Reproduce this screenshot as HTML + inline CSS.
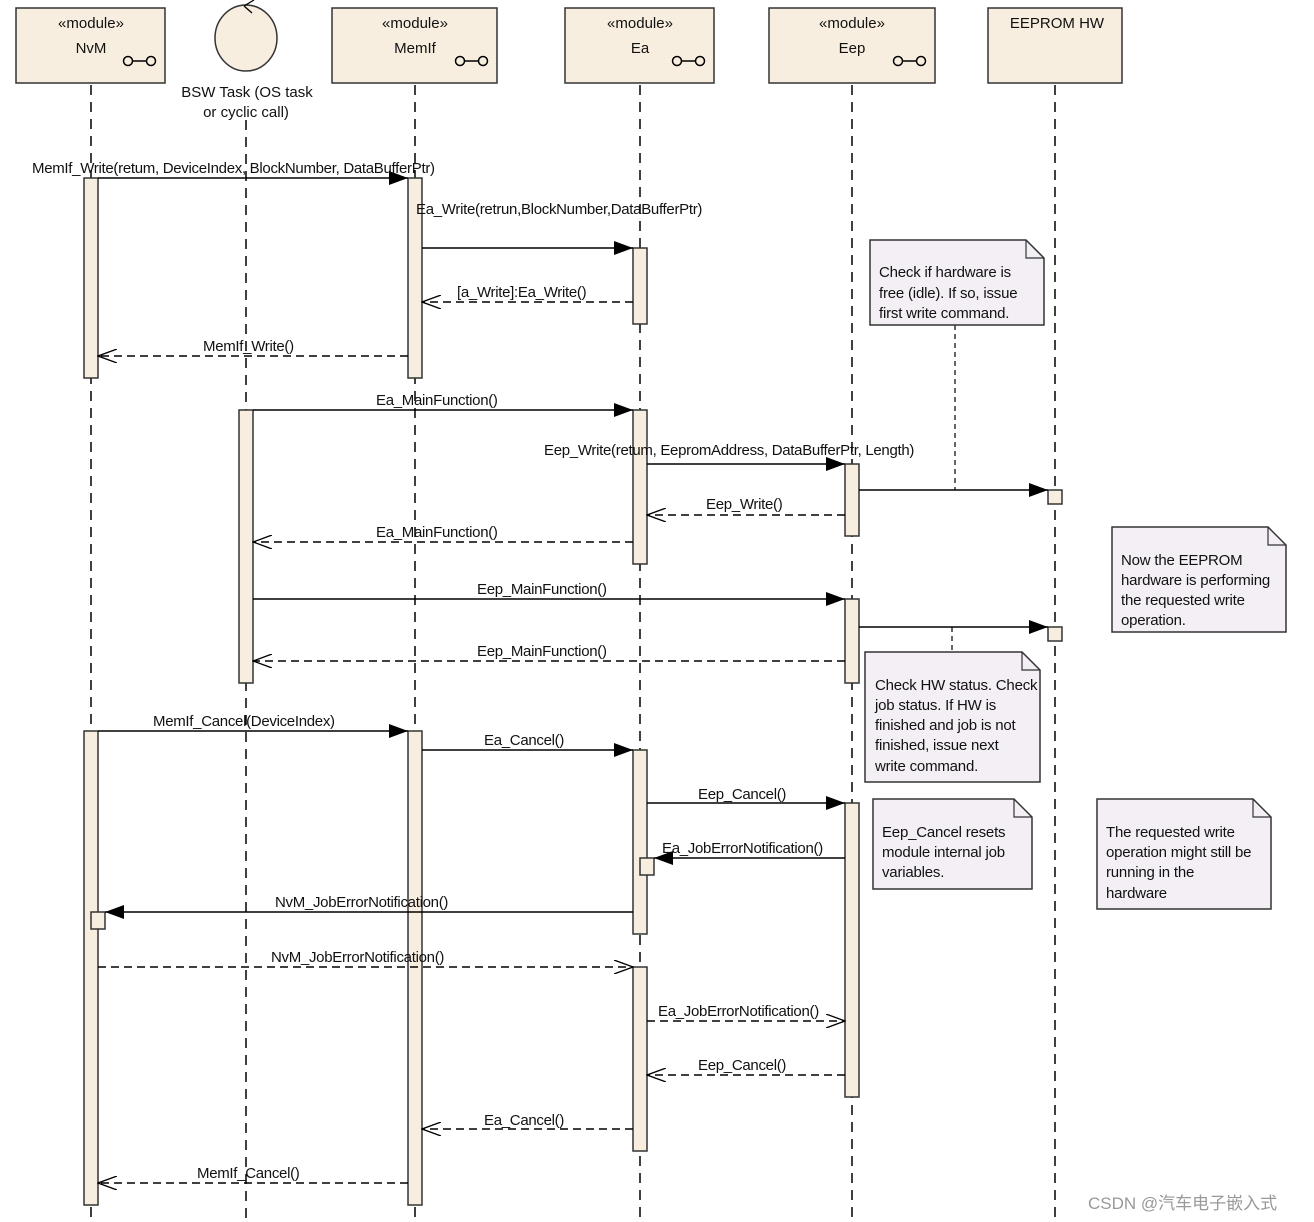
<!DOCTYPE html>
<html><head><meta charset="utf-8"><style>body{margin:0;background:#fff}svg{display:block}text{font-family:"Liberation Sans","Noto Sans CJK SC",sans-serif;font-size:15px;fill:#111}</style></head><body>
<svg width="1314" height="1222" viewBox="0 0 1314 1222" xmlns="http://www.w3.org/2000/svg">
<defs>
<marker id="f" markerWidth="20" markerHeight="14" refX="19" refY="7" orient="auto" markerUnits="userSpaceOnUse"><path d="M0,0 L19,7 L0,14 Z" fill="#000"/></marker>
<marker id="o" markerWidth="20" markerHeight="14" refX="19" refY="7" orient="auto" markerUnits="userSpaceOnUse"><path d="M0,0 L19,7 L0,14" fill="none" stroke="#000" stroke-width="1.3"/></marker>
</defs>
<g stroke="#000" stroke-width="1.5" stroke-dasharray="10,7" fill="none">
<line x1="91" y1="85" x2="91" y2="1222"/><line x1="246" y1="120" x2="246" y2="1222"/><line x1="415" y1="85" x2="415" y2="1222"/>
<line x1="640" y1="85" x2="640" y2="1222"/><line x1="852" y1="85" x2="852" y2="1222"/><line x1="1055" y1="85" x2="1055" y2="1222"/>
<line x1="955" y1="325" x2="955" y2="490" stroke-dasharray="5,4" stroke-width="1.2"/>
<line x1="952" y1="627" x2="952" y2="652" stroke-dasharray="5,4" stroke-width="1.2"/>
</g>
<g fill="#f8eee0" stroke="#333" stroke-width="1.5">
<rect x="16" y="8" width="149" height="75"/><rect x="332" y="8" width="165" height="75"/><rect x="565" y="8" width="149" height="75"/><rect x="769" y="8" width="166" height="75"/><rect x="988" y="8" width="134" height="75"/>
<ellipse cx="246" cy="38" rx="31" ry="33"/>
</g>
<path d="M244,6 L254,0 M244,6 L252,13" stroke="#000" fill="none" stroke-width="1.3"/>
<g fill="none" stroke="#000" stroke-width="1.5">
<circle cx="128" cy="61" r="4.5"/><circle cx="151" cy="61" r="4.5"/><line x1="132" y1="61" x2="147" y2="61"/>
<circle cx="460" cy="61" r="4.5"/><circle cx="483" cy="61" r="4.5"/><line x1="464" y1="61" x2="479" y2="61"/>
<circle cx="677" cy="61" r="4.5"/><circle cx="700" cy="61" r="4.5"/><line x1="681" y1="61" x2="696" y2="61"/>
<circle cx="898" cy="61" r="4.5"/><circle cx="921" cy="61" r="4.5"/><line x1="902" y1="61" x2="917" y2="61"/>
</g>
<g text-anchor="middle">
<text x="91" y="28">«module»</text><text x="91" y="53">NvM</text>
<text x="415" y="28">«module»</text><text x="415" y="53">MemIf</text>
<text x="640" y="28">«module»</text><text x="640" y="53">Ea</text>
<text x="852" y="28">«module»</text><text x="852" y="53">Eep</text>
<text x="1057" y="28">EEPROM HW</text>
<text x="247" y="97">BSW Task (OS task</text><text x="246" y="117">or cyclic call)</text>
</g>
<g fill="#f8eee0" stroke="#333" stroke-width="1.5">
<rect x="84" y="178" width="14" height="200"/><rect x="84" y="731" width="14" height="474"/>
<rect x="408" y="178" width="14" height="200"/><rect x="408" y="731" width="14" height="474"/>
<rect x="633" y="248" width="14" height="76"/><rect x="633" y="410" width="14" height="154"/><rect x="633" y="750" width="14" height="184"/><rect x="633" y="967" width="14" height="184"/>
<rect x="239" y="410" width="14" height="273"/>
<rect x="845" y="464" width="14" height="72"/><rect x="845" y="599" width="14" height="84"/><rect x="845" y="803" width="14" height="294"/>
<rect x="1048" y="490" width="14" height="14"/><rect x="1048" y="627" width="14" height="14"/>
<rect x="640" y="858" width="14" height="17"/><rect x="91" y="912" width="14" height="17"/>
</g>
<g stroke="#000" stroke-width="1.5" fill="none">
<line x1="98" y1="178" x2="408" y2="178" marker-end="url(#f)"/>
<line x1="422" y1="248" x2="633" y2="248" marker-end="url(#f)"/>
<line x1="633" y1="302" x2="422" y2="302" stroke-dasharray="8,5" marker-end="url(#o)"/>
<line x1="408" y1="356" x2="98" y2="356" stroke-dasharray="8,5" marker-end="url(#o)"/>
<line x1="253" y1="410" x2="633" y2="410" marker-end="url(#f)"/>
<line x1="647" y1="464" x2="845" y2="464" marker-end="url(#f)"/>
<line x1="859" y1="490" x2="1048" y2="490" marker-end="url(#f)"/>
<line x1="845" y1="515" x2="647" y2="515" stroke-dasharray="8,5" marker-end="url(#o)"/>
<line x1="633" y1="542" x2="253" y2="542" stroke-dasharray="8,5" marker-end="url(#o)"/>
<line x1="253" y1="599" x2="845" y2="599" marker-end="url(#f)"/>
<line x1="859" y1="627" x2="1048" y2="627" marker-end="url(#f)"/>
<line x1="845" y1="661" x2="253" y2="661" stroke-dasharray="8,5" marker-end="url(#o)"/>
<line x1="98" y1="731" x2="408" y2="731" marker-end="url(#f)"/>
<line x1="422" y1="750" x2="633" y2="750" marker-end="url(#f)"/>
<line x1="647" y1="803" x2="845" y2="803" marker-end="url(#f)"/>
<line x1="845" y1="858" x2="654" y2="858" marker-end="url(#f)"/>
<line x1="633" y1="912" x2="105" y2="912" marker-end="url(#f)"/>
<line x1="98" y1="967" x2="633" y2="967" stroke-dasharray="8,5" marker-end="url(#o)"/>
<line x1="647" y1="1021" x2="845" y2="1021" stroke-dasharray="8,5" marker-end="url(#o)"/>
<line x1="845" y1="1075" x2="647" y2="1075" stroke-dasharray="8,5" marker-end="url(#o)"/>
<line x1="633" y1="1129" x2="422" y2="1129" stroke-dasharray="8,5" marker-end="url(#o)"/>
<line x1="408" y1="1183" x2="98" y2="1183" stroke-dasharray="8,5" marker-end="url(#o)"/>
</g>
<g letter-spacing="-0.3">
<text x="32" y="173">MemIf_Write(retum, DeviceIndex, BlockNumber, DataBufferPtr)</text>
<text x="416" y="214">Ea_Write(retrun,BlockNumber,DataBufferPtr)</text>
<text x="457" y="297">[a_Write]:Ea_Write()</text>
<text x="203" y="351">MemIf_Write()</text>
<text x="376" y="405">Ea_MainFunction()</text>
<text x="544" y="455">Eep_Write(retum, EepromAddress, DataBufferPtr, Length)</text>
<text x="706" y="509">Eep_Write()</text>
<text x="376" y="537">Ea_MainFunction()</text>
<text x="477" y="594">Eep_MainFunction()</text>
<text x="477" y="656">Eep_MainFunction()</text>
<text x="153" y="726">MemIf_Cancel(DeviceIndex)</text>
<text x="484" y="745">Ea_Cancel()</text>
<text x="698" y="799">Eep_Cancel()</text>
<text x="662" y="853">Ea_JobErrorNotification()</text>
<text x="275" y="907">NvM_JobErrorNotification()</text>
<text x="271" y="962">NvM_JobErrorNotification()</text>
<text x="658" y="1016">Ea_JobErrorNotification()</text>
<text x="698" y="1070">Eep_Cancel()</text>
<text x="484" y="1125">Ea_Cancel()</text>
<text x="197" y="1178">MemIf_Cancel()</text>
</g>
<g fill="#f3eff5" stroke="#333" stroke-width="1.5">
<path d="M870,240 H1026 L1044,258 V325 H870 Z"/><path d="M1112,527 H1268 L1286,545 V632 H1112 Z"/>
<path d="M865,652 H1022 L1040,670 V782 H865 Z"/><path d="M873,799 H1014 L1032,817 V889 H873 Z"/>
<path d="M1097,799 H1253 L1271,817 V909 H1097 Z"/>
</g>
<g fill="none" stroke="#333" stroke-width="1.2">
<path d="M1026,240 V258 H1044"/><path d="M1268,527 V545 H1286"/><path d="M1022,652 V670 H1040"/><path d="M1014,799 V817 H1032"/><path d="M1253,799 V817 H1271"/>
</g>
<g letter-spacing="-0.2">
<text x="879" y="277">Check if hardware is</text><text x="879" y="298">free (idle). If so, issue</text><text x="879" y="318">first write command.</text>
<text x="1121" y="565">Now the EEPROM</text><text x="1121" y="585">hardware is performing</text><text x="1121" y="605">the requested write</text><text x="1121" y="625">operation.</text>
<text x="875" y="690">Check HW status. Check</text><text x="875" y="710">job status. If HW is</text><text x="875" y="730">finished and job is not</text><text x="875" y="750">finished, issue next</text><text x="875" y="771">write command.</text>
<text x="882" y="837">Eep_Cancel resets</text><text x="882" y="857">module internal job</text><text x="882" y="877">variables.</text>
<text x="1106" y="837">The requested write</text><text x="1106" y="857">operation might still be</text><text x="1106" y="877">running in the</text><text x="1106" y="898">hardware</text>
</g>
<text x="1088" y="1209" style="fill:#999;font-size:17px">CSDN @汽车电子嵌入式</text>
</svg>
</body></html>
